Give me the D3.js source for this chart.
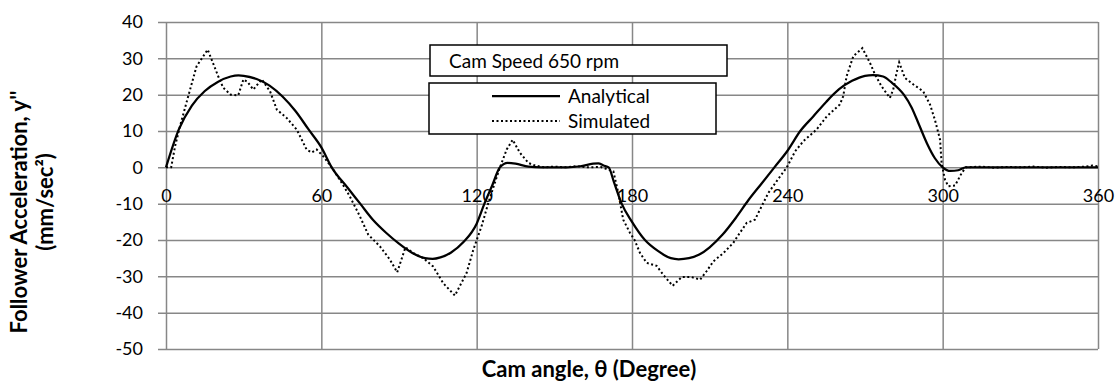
<!DOCTYPE html>
<html>
<head>
<meta charset="utf-8">
<script src="https://cdn.jsdelivr.net/npm/d3@7"></script>
<style>
  html, body { margin: 0; padding: 0; background: #fff; }
  svg { display: block; font-family: Lato, "Open Sans", sans-serif; }
</style>
</head>
<body>
<svg id="chart" width="1115" height="383"></svg>
<script>
// Follower acceleration over one cam revolution (650 rpm)
const xTicks = [0, 60, 120, 180, 240, 300, 360];
const yTicks = [40, 30, 20, 10, 0, -10, -20, -30, -40, -50];

const analyticalAngle = [0, 5, 10, 15, 20, 25, 28, 30, 35, 40, 45, 50, 55, 60, 64, 70, 75, 80, 85, 90,
  95, 100, 103, 106, 110, 115, 120, 123, 126, 129, 132, 135, 140, 145, 150, 155, 160, 165, 167, 169,
  171, 173, 176, 180, 185, 190, 195, 198, 202, 206, 210, 215, 220, 225, 230, 235, 240, 245, 250, 255,
  260, 265, 270, 273, 277, 280, 285, 288, 291, 294, 297, 300, 303, 306, 309, 315, 330, 345, 360];
const analyticalAccel = [0, 10.5, 17, 21, 23.5, 25, 25.3, 25.2, 24.3, 22.5, 19.5, 15.5, 10.5, 5.5, 0, -5.5, -10, -14.5, -18, -21,
  -23.5, -25, -25.2, -24.8, -23.5, -20.5, -15.5, -10, -5, 0, 1.2, 1, 0.2, 0, 0, 0, 0.3, 1, 1.1, 0.5,
  0, -4, -10, -15, -20, -23, -25, -25.3, -25, -24, -22, -18.5, -14, -9, -4.5, 0, 4.5, 10, 14, 18,
  21.5, 23.8, 25.2, 25.4, 25, 23.5, 20, 16.5, 11.5, 6.5, 2.5, 0, -1, -0.8, 0, 0, 0, 0, 0];

const simulatedAngle = [0, 2, 3.5, 5.4, 8.6, 11.8, 16.1, 20.2, 22.1, 25, 27.9, 29.9, 31.5, 33.7, 37, 40.2, 42.8, 46.6, 50.5, 54.3,
  56.3, 58.2, 60.8, 64.6, 67.9, 71, 74.9, 78.1, 82.7, 86.5, 89.3, 92.5, 95.5, 99.4, 103.2, 107.1, 111.6, 116.1, 118.7, 121.9,
  124.5, 127, 129, 131.6, 133.9, 136.7, 140, 142.6, 146, 150, 154, 158.6, 163, 168, 172.8, 174.7, 176.6, 179.2, 181, 183.1,
  185.7, 189.5, 192.1, 195.7, 199.2, 203, 206.3, 208.8, 211.4, 215.3, 219.1, 221.7, 224.3, 227.5, 230.1, 232.7, 237.2, 239.8, 243, 246.2,
  251.3, 255.2, 260.3, 261.6, 262.9, 265.5, 269, 271.9, 273.9, 276.4, 279.6, 280.9, 282.2, 283.2, 285.4, 288.7, 292.5, 295.1, 297, 299,
  299.6, 300.9, 302.2, 304.8, 307.4, 309, 315, 320, 325, 330, 335, 340, 345, 350, 355, 358, 360];
const simulatedAccel = [0, 0, 5.8, 11.3, 19.6, 27.8, 32.4, 25, 21.9, 20, 19.8, 24.2, 23.5, 21.4, 24.2, 20.9, 15.9, 13.6, 10.4, 4.9,
  4.1, 4.9, 3, -0.6, -4.3, -8, -13.5, -18.5, -21.8, -25.4, -28.9, -22, -23.6, -25, -27.3, -31.9, -35.3, -29.1, -22.7, -16.2,
  -9.8, -4.3, 0, 4.9, 7.6, 4, 1.2, 0.5, 0, 0.2, 0, 0.3, 0, 0.1, -1.1, -7, -14.4, -18, -20, -23.6,
  -26.3, -27.1, -29.6, -32.6, -30.2, -30.2, -30.9, -28.6, -25.9, -23.6, -20.8, -18, -15.3, -14.4, -10.7, -7, -2.5, 0, 4.4, 7.2,
  10.4, 14, 17.3, 19.6, 25.1, 30.6, 32.8, 28.8, 25.5, 22.3, 19.1, 21.4, 26, 28.9, 24.6, 22.8, 20.9, 17.3, 13.1, 7.6,
  1, -3.4, -5.2, -5, -1.5, 0, 0.2, -0.1, 0.1, 0, 0.2, -0.1, 0.1, 0, 0.2, 0.5, 0.3];

const legendTitle = "Cam Speed 650 rpm";
const seriesNames = ["Analytical", "Simulated"];
const xTitle = "Cam angle, θ (Degree)";
const yTitleLines = ["Follower Acceleration, y''", "(mm/sec²)"];

const svg = d3.select("#chart");
const plotLeft = 166, plotRight = 1098, plotTop = 22, plotBottom = 349;

const x = d3.scaleLinear().domain([0, 360]).range([plotLeft, plotRight]);
const y = d3.scaleLinear().domain([-50, 40]).range([plotBottom, plotTop]);

const gridColor = "#878787";
const tickFont = 18;
const plain = d => String(d);

// horizontal gridlines with short outward ticks on the left
svg.append("g")
  .attr("transform", `translate(${plotLeft},0)`)
  .call(d3.axisLeft(y).tickValues(yTicks).tickSize(-(plotRight - plotLeft)).tickSizeOuter(0).tickPadding(23).tickFormat(plain))
  .call(g => g.select(".domain").remove())
  .call(g => g.selectAll(".tick line").attr("stroke", gridColor).attr("stroke-width", 1.5).attr("x1", -8))
  .call(g => g.selectAll(".tick text").attr("font-size", tickFont).attr("fill", "#000").attr("font-family", "Lato"));

// vertical gridlines
svg.append("g")
  .attr("transform", `translate(0,${plotBottom})`)
  .call(d3.axisBottom(x).tickValues(xTicks).tickSize(-(plotBottom - plotTop)).tickSizeOuter(0).tickFormat(""))
  .call(g => g.select(".domain").remove())
  .call(g => g.selectAll(".tick line").attr("stroke", gridColor).attr("stroke-width", 1.5));

// x tick labels sit just under the zero line
svg.append("g")
  .attr("transform", `translate(0,${y(0)})`)
  .call(d3.axisBottom(x).tickValues(xTicks).tickSize(0).tickPadding(22).tickFormat(plain))
  .call(g => g.select(".domain").remove())
  .call(g => g.selectAll(".tick text").attr("font-size", tickFont).attr("fill", "#000").attr("font-family", "Lato"));

const analytical = analyticalAngle.map((a, i) => [a, analyticalAccel[i]]);
const simulated = simulatedAngle.map((a, i) => [a, simulatedAccel[i]]);

const lineSmooth = d3.line().x(d => x(d[0])).y(d => y(d[1])).curve(d3.curveMonotoneX);
const lineRaw = d3.line().x(d => x(d[0])).y(d => y(d[1])).curve(d3.curveLinear);

const dotted = "2,2.5";

svg.append("path").datum(simulated)
  .attr("d", lineRaw).attr("fill", "none").attr("stroke", "#000")
  .attr("stroke-width", 2).attr("stroke-dasharray", dotted);

svg.append("path").datum(analytical)
  .attr("d", lineSmooth).attr("fill", "none").attr("stroke", "#000")
  .attr("stroke-width", 2.25).attr("stroke-linejoin", "round");

// legend title box
const legendFont = 19;
const lg = svg.append("g");
lg.append("rect").attr("x", 430).attr("y", 45).attr("width", 297).attr("height", 31)
  .attr("fill", "#fff").attr("stroke", "#000").attr("stroke-width", 1.5);
lg.append("text").attr("x", 449).attr("y", 68).attr("font-size", legendFont).text(legendTitle);

// series legend box
lg.append("rect").attr("x", 429).attr("y", 83).attr("width", 287).attr("height", 51)
  .attr("fill", "#fff").attr("stroke", "#000").attr("stroke-width", 1.5);
const rows = lg.selectAll("g.row").data(seriesNames).join("g")
  .attr("class", "row")
  .attr("transform", (d, i) => `translate(0,${96 + i * 25})`);
rows.append("line").attr("x1", 492).attr("x2", 560).attr("y1", 0).attr("y2", 0)
  .attr("stroke", "#000")
  .attr("stroke-width", (d, i) => i === 0 ? 2.25 : 2)
  .attr("stroke-dasharray", (d, i) => i === 0 ? null : dotted);
rows.append("text").attr("x", 568).attr("y", 6.5).attr("font-size", legendFont).text(d => d);

// axis titles
const titleFont = 22;
svg.append("text").attr("x", 589).attr("y", 377).attr("text-anchor", "middle")
  .attr("font-size", titleFont).attr("font-weight", "bold").text(xTitle);

svg.selectAll("text.ytitle").data(yTitleLines).join("text")
  .attr("class", "ytitle")
  .attr("transform", (d, i) => `translate(${i === 0 ? 27 : 53},${i === 0 ? 212 : 202}) rotate(-90)`)
  .attr("text-anchor", "middle").attr("font-size", titleFont).attr("font-weight", "bold")
  .text(d => d);
</script>
</body>
</html>
